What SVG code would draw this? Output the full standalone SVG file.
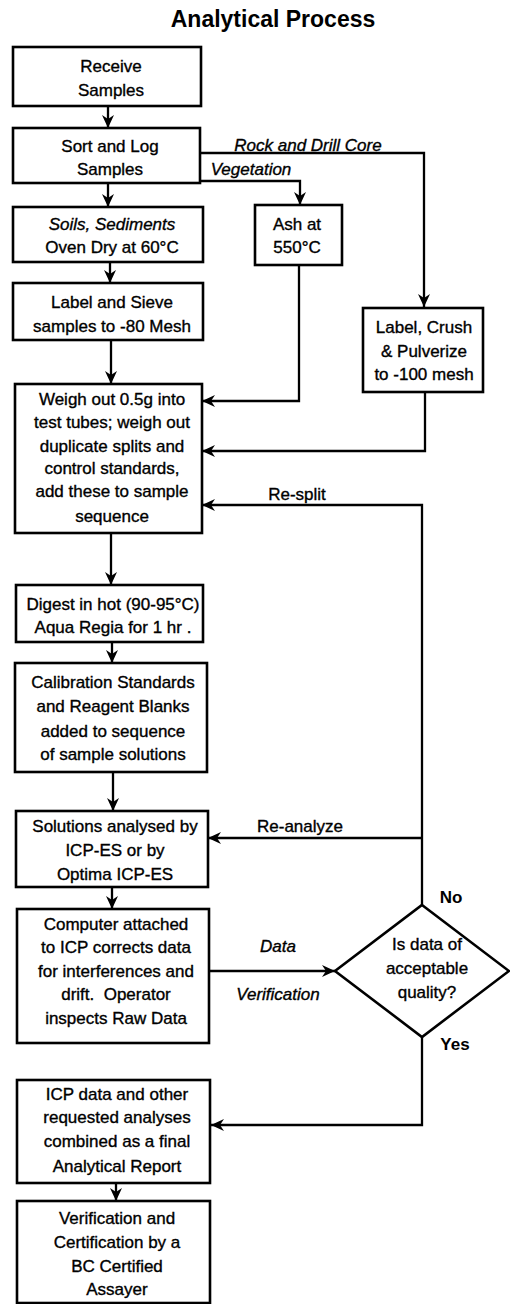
<svg xmlns="http://www.w3.org/2000/svg" width="510" height="1304" viewBox="0 0 510 1304">
<style>
.box{fill:#fff;stroke:#000;stroke-width:2.6}
.t{font-family:"Liberation Sans",Arial,sans-serif;font-size:17px;fill:#000;stroke:#000;stroke-width:0.35;text-anchor:middle}
.i{font-style:italic}
.b{font-weight:bold;stroke-width:0}
.ttl{font-family:"Liberation Sans",Arial,sans-serif;font-size:23px;font-weight:bold;fill:#000;text-anchor:middle}
.ln{fill:none;stroke:#000;stroke-width:2.3}
.ar{marker-end:url(#ah)}
</style>
<defs>
<marker id="ah" markerUnits="userSpaceOnUse" markerWidth="14" markerHeight="14" refX="13" refY="7" orient="auto">
<path d="M0,1 L13,7 L0,13 L4,7 z" fill="#000"/>
</marker>
</defs>
<rect width="510" height="1304" fill="#fff"/>
<text class="ttl" x="273" y="27">Analytical Process</text>

<g id="connectors">
<path class="ln ar" d="M108,106 V128"/>
<path class="ln ar" d="M108,183 V207"/>
<path class="ln ar" d="M200,153 H424 V307"/>
<path class="ln ar" d="M200,181 H300 V205"/>
<path class="ln ar" d="M110,262 V283"/>
<path class="ln ar" d="M111,340 V384"/>
<path class="ln ar" d="M299,265 V401 H202"/>
<path class="ln ar" d="M425,392 V451 H202"/>
<path class="ln ar" d="M422,905 V505 H202"/>
<path class="ln ar" d="M111,533 V585"/>
<path class="ln ar" d="M112,642 V663"/>
<path class="ln ar" d="M113,772 V811"/>
<path class="ln ar" d="M422,838 H208"/>
<path class="ln ar" d="M112,887 V909"/>
<path class="ln ar" d="M209,971 H335"/>
<path class="ln ar" d="M422,1037 V1125 H211"/>
<path class="ln ar" d="M116,1183 V1201"/>
<text class="t i" x="308" y="151">Rock and Drill Core</text>
<text class="t i" x="251" y="175">Vegetation</text>
<text class="t" x="297" y="500">Re-split</text>
<text class="t" x="300" y="832">Re-analyze</text>
<text class="t i" x="278" y="952">Data</text>
<text class="t i" x="278" y="1000">Verification</text>
<text class="t b" x="451" y="903">No</text>
<text class="t b" x="455" y="1050">Yes</text>
</g>

<g id="receive">
<rect class="box" x="13" y="47" width="188" height="59"/>
<text class="t" x="111" y="72">Receive</text>
<text class="t" x="111" y="96">Samples</text>
</g>
<g id="sort">
<rect class="box" x="13" y="128" width="187" height="55"/>
<text class="t" x="110" y="152">Sort and Log</text>
<text class="t" x="110" y="175">Samples</text>
</g>
<g id="soils">
<rect class="box" x="13" y="207" width="190" height="55"/>
<text class="t i" x="112" y="230">Soils, Sediments</text>
<text class="t" x="112" y="253">Oven Dry at 60°C</text>
</g>
<g id="ash">
<rect class="box" x="255" y="205" width="87" height="60"/>
<text class="t" x="297" y="230">Ash at</text>
<text class="t" x="297" y="253">550°C</text>
</g>
<g id="sieve">
<rect class="box" x="13" y="283" width="190" height="57"/>
<text class="t" x="112" y="308">Label and Sieve</text>
<text class="t" x="112" y="332">samples to -80 Mesh</text>
</g>
<g id="crush">
<rect class="box" x="363" y="308" width="120" height="84"/>
<text class="t" x="424" y="333">Label, Crush</text>
<text class="t" x="424" y="357">&amp; Pulverize</text>
<text class="t" x="424" y="380">to -100 mesh</text>
</g>
<g id="weigh">
<rect class="box" x="15" y="384" width="187" height="149"/>
<text class="t" x="112" y="405">Weigh out 0.5g into</text>
<text class="t" x="112" y="428">test tubes; weigh out</text>
<text class="t" x="112" y="452">duplicate splits and</text>
<text class="t" x="112" y="474">control standards,</text>
<text class="t" x="112" y="497">add these to sample</text>
<text class="t" x="112" y="522">sequence</text>
</g>
<g id="digest">
<rect class="box" x="16" y="585" width="187" height="57"/>
<text class="t" x="113" y="610">Digest in hot (90-95°C)</text>
<text class="t" x="113" y="633">Aqua Regia for 1 hr .</text>
</g>
<g id="calibration">
<rect class="box" x="15" y="663" width="192" height="109"/>
<text class="t" x="113" y="688">Calibration Standards</text>
<text class="t" x="113" y="712">and Reagent Blanks</text>
<text class="t" x="113" y="737">added to sequence</text>
<text class="t" x="113" y="760">of sample solutions</text>
</g>
<g id="solutions">
<rect class="box" x="16" y="811" width="192" height="76"/>
<text class="t" x="115" y="832">Solutions analysed by</text>
<text class="t" x="115" y="856">ICP-ES or by</text>
<text class="t" x="115" y="880">Optima ICP-ES</text>
</g>
<g id="computer">
<rect class="box" x="17" y="909" width="192" height="134"/>
<text class="t" x="116" y="930">Computer attached</text>
<text class="t" x="116" y="953">to ICP corrects data</text>
<text class="t" x="116" y="977">for interferences and</text>
<text class="t" x="116" y="1000">drift.&#160; Operator</text>
<text class="t" x="116" y="1024">inspects Raw Data</text>
</g>
<g id="decision">
<polygon points="422,905 509,971 422,1037 335,971" fill="#fff" stroke="#000" stroke-width="2.6"/>
<text class="t" x="427" y="950">Is data of</text>
<text class="t" x="427" y="974">acceptable</text>
<text class="t" x="427" y="998">quality?</text>
</g>
<g id="report">
<rect class="box" x="17" y="1080" width="193" height="103"/>
<text class="t" x="117" y="1100">ICP data and other</text>
<text class="t" x="117" y="1123">requested analyses</text>
<text class="t" x="117" y="1147">combined as a final</text>
<text class="t" x="117" y="1172">Analytical Report</text>
</g>
<g id="verification">
<rect class="box" x="17" y="1201" width="193" height="102"/>
<text class="t" x="117" y="1224">Verification and</text>
<text class="t" x="117" y="1248">Certification by a</text>
<text class="t" x="117" y="1272">BC Certified</text>
<text class="t" x="117" y="1295">Assayer</text>
</g>
</svg>
